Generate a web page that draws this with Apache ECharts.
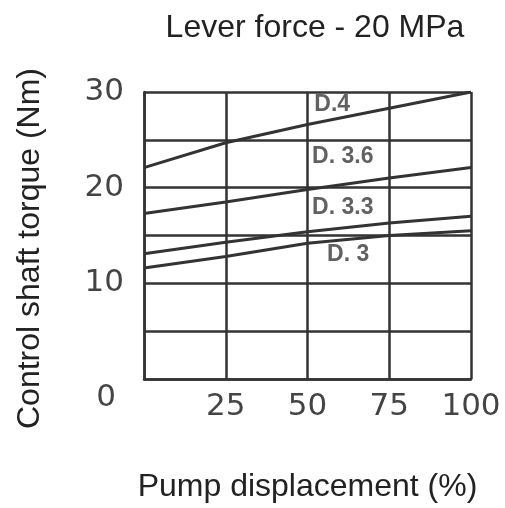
<!DOCTYPE html>
<html>
<head>
<meta charset="utf-8">
<script src="https://cdn.jsdelivr.net/npm/echarts@6/dist/echarts.min.js"></script>
<style>
  html, body { margin: 0; padding: 0; background: #fff; }
  #chart { width: 505px; height: 508px; }
</style>
</head>
<body>
<div id="chart"></div>
<script>
// pump displacement (%) where the curves were read
var displacement = [0, 25, 50, 75, 100];
// control shaft torque (Nm) per curve
var torqueD4 = [22.1, 24.7, 26.6, 28.3, 30.0];
var torqueD36 = [17.3, 18.5, 19.8, 21.0, 22.1];
var torqueD33 = [13.1, 14.3, 15.4, 16.3, 17.0];
var torqueD3 = [11.6, 12.8, 14.2, 15.0, 15.5];
var curveNames = ["D.4", "D. 3.6", "D. 3.3", "D. 3"];
// where each curve tag sits (displacement, torque)
var tagPos = [[52.1, 28.7], [51.4, 23.2], [51.4, 17.9], [56.0, 13.0]];
var yTickLabels = [0, 10, 20, 30];
var xTickLabels = [25, 50, 75, 100];

var ink = "#333";

function pairs(ys) {
  return displacement.map(function (x, i) { return [x, ys[i]]; });
}

var chart = echarts.init(document.getElementById("chart"));

var allCurves = [torqueD4, torqueD36, torqueD33, torqueD3];
var series = allCurves.map(function (ys, i) {
  return {
    name: curveNames[i],
    type: "line",
    data: pairs(ys),
    symbol: "none",
    lineStyle: { color: ink, width: 3 }
  };
});

// curve tags
series.push({
  type: "scatter",
  data: tagPos.map(function (p, i) { return { value: p, name: curveNames[i] }; }),
  symbolSize: 0,
  silent: true,
  label: {
    show: true,
    formatter: "{b}",
    position: "right",
    distance: 0,
    color: "#3a3a3a",
    fontFamily: "Liberation Sans",
    fontWeight: "bold",
    fontSize: 23
  }
});

var option = {
  animation: false,
  backgroundColor: "#fff",
  title: {
    text: "Lever force - 20 MPa",
    left: 310,
    textAlign: "center",
    top: 7,
    textStyle: { fontFamily: "Liberation Sans", fontWeight: "normal", fontSize: 32, color: "#222" }
  },
  grid: { left: 144, right: 34, top: 92, bottom: 126 },
  xAxis: {
    type: "value",
    min: 0,
    max: 100,
    interval: 25,
    name: "Pump displacement (%)",
    nameLocation: "middle",
    nameGap: 92,
    nameTextStyle: { fontFamily: "Liberation Sans", fontSize: 32, color: "#222", verticalAlign: "top" },
    axisLine: { show: true, lineStyle: { color: ink, width: 2.5 } },
    axisTick: { show: false },
    splitLine: { show: true, lineStyle: { color: ink, width: 2.5 } },
    axisLabel: {
      margin: 12,
      fontFamily: "DejaVu Sans",
      fontSize: 31,
      color: "#444",
      formatter: function (v) { return xTickLabels.indexOf(v) >= 0 ? String(v) : ""; }
    }
  },
  yAxis: {
    type: "value",
    min: 0,
    max: 30,
    interval: 5,
    name: "Control shaft torque (Nm)",
    nameLocation: "middle",
    nameGap: 98,
    nameTextStyle: { fontFamily: "Liberation Sans", fontSize: 32, color: "#222", padding: [0, 26, 0, 0] },
    axisLine: { show: true, lineStyle: { color: ink, width: 2.5 } },
    axisTick: { show: false },
    splitLine: { show: true, lineStyle: { color: ink, width: 2.5 } },
    axisLabel: {
      margin: 20,
      fontFamily: "DejaVu Sans",
      fontSize: 31,
      color: "#444",
      formatter: function (v) {
        if (yTickLabels.indexOf(v) < 0) return "";
        return v === 0 ? "{z|0}" : String(v);
      },
      rich: {
        z: { fontFamily: "DejaVu Sans", fontSize: 31, color: "#444", padding: [38, 8, 0, 0] }
      }
    }
  },
  series: series
};

chart.setOption(option);
</script>
</body>
</html>
